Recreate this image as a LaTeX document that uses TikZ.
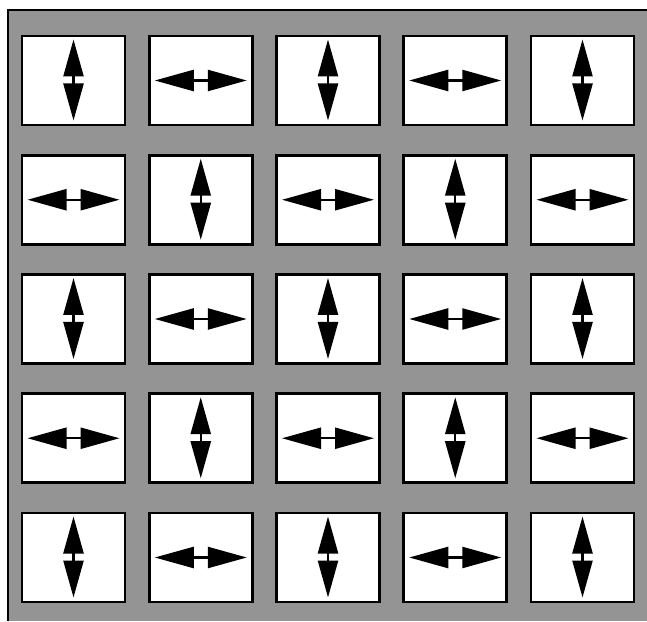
\documentclass[tikz,border=0pt]{standalone}
\usetikzlibrary{arrows.meta,positioning}
\definecolor{screen}{gray}{0.58}
\tikzset{
  frame/.style={draw=black, line width=1.8pt},
  cell/.style={
    draw=black, fill=white, line width=2.6pt,
    minimum width=103pt, minimum height=89pt, inner sep=0pt
  },
  vdbl/.style={
    line width=2.4pt,
    {Triangle[length=37pt,width=20pt]}-{Triangle[length=37pt,width=20pt]}
  },
  hdbl/.style={
    line width=2.4pt,
    {Triangle[length=39pt,width=21pt]}-{Triangle[length=39pt,width=21pt]}
  },
}
\begin{document}
\begin{tikzpicture}[x=1pt,y=1pt]
\useasboundingbox (0,0) rectangle (647,621);

% -- dotted screen with its frame --------------------------------------------
\fill[screen] (8,0) rectangle (647,611);
\draw[frame] (8,0) -- (8,611) -- (647,611);

% -- 5 x 5 cells, arrows alternate like a chess board ------------------------
\foreach \r in {1,...,5}{
  \foreach \c in {1,...,5}{
    \node[cell] (cell-\r-\c)
      at ({73.5+127.25*(\c-1)},{540.5-119.25*(\r-1)}) {};
    \pgfmathtruncatemacro{\odd}{mod(\r+\c,2)}
    \ifnum\odd=0
      \draw[vdbl] ([yshift=-40pt]cell-\r-\c.center)
        -- ([yshift=41pt]cell-\r-\c.center);
    \else
      \draw[hdbl] ([xshift=-46pt]cell-\r-\c.center)
        -- ([xshift=46pt]cell-\r-\c.center);
    \fi
  }
}

\end{tikzpicture}
\end{document}
